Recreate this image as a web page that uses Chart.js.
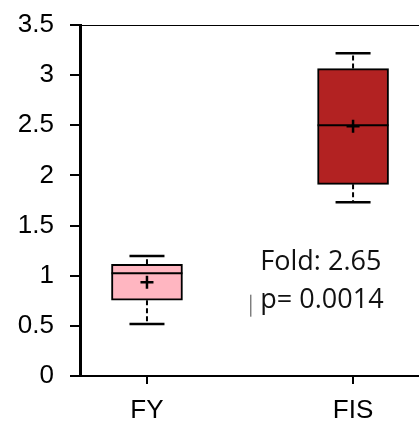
<!DOCTYPE html>
<html>
<head>
<meta charset="utf-8">
<script src="https://cdn.jsdelivr.net/npm/chart.js@4"></script>
<style>
  html, body { margin: 0; padding: 0; background: #ffffff; }
  #chart { display: block; }
</style>
</head>
<body>
<canvas id="chart" width="419" height="424"></canvas>
<script>
const CATEGORIES = ["FY", "FIS"];
const Q1 = [0.755, 1.911];
const Q3 = [1.114, 3.065];
const MEDIANS = [1.024, 2.5];
const MEANS = [0.935, 2.49];
const WHISKER_LOW = [0.518, 1.732];
const WHISKER_HIGH = [1.197, 3.218];
const Y_TICKS = [0, 0.5, 1, 1.5, 2, 2.5, 3, 3.5];
const NOTE_LINES = ["Fold: 2.65", "p= 0.0014"];

const COLORS = {
  black: "#000000",
  pink: "#FFB6C1",
  red: "#B22222",
  white: "#FFFFFF",
};
const BOX_COLORS = [COLORS.pink, COLORS.red];
const BOX_WIDTH = 71;
const CAP_WIDTH = 35;
const MEAN_SIZE = 13;

// median, whiskers, caps and mean crosses on top of the floating bars
const boxExtrasPlugin = {
  id: "boxExtras",
  afterDatasetsDraw: (chart) => {
    const { ctx, scales } = chart;
    const { x, y } = scales;

    ctx.save();
    ctx.strokeStyle = COLORS.black;

    CATEGORIES.forEach((cat, i) => {
      const cx = x.getPixelForValue(i + 1);
      const half = BOX_WIDTH / 2;

      // median
      ctx.lineWidth = 2;
      ctx.setLineDash([]);
      ctx.beginPath();
      ctx.moveTo(cx - half, y.getPixelForValue(MEDIANS[i]));
      ctx.lineTo(cx + half, y.getPixelForValue(MEDIANS[i]));
      ctx.stroke();

      // dashed whiskers
      ctx.setLineDash([5, 3]);
      ctx.beginPath();
      ctx.moveTo(cx, y.getPixelForValue(Q3[i]));
      ctx.lineTo(cx, y.getPixelForValue(WHISKER_HIGH[i]));
      ctx.moveTo(cx, y.getPixelForValue(Q1[i]));
      ctx.lineTo(cx, y.getPixelForValue(WHISKER_LOW[i]));
      ctx.stroke();

      // caps
      ctx.setLineDash([]);
      ctx.lineWidth = 2.5;
      ctx.beginPath();
      [WHISKER_HIGH[i], WHISKER_LOW[i]].forEach((v) => {
        const py = y.getPixelForValue(v);
        ctx.moveTo(cx - CAP_WIDTH / 2, py);
        ctx.lineTo(cx + CAP_WIDTH / 2, py);
      });
      ctx.stroke();

      // mean cross
      const my = y.getPixelForValue(MEANS[i]);
      ctx.beginPath();
      ctx.moveTo(cx - MEAN_SIZE / 2, my);
      ctx.lineTo(cx + MEAN_SIZE / 2, my);
      ctx.moveTo(cx, my - MEAN_SIZE / 2);
      ctx.lineTo(cx, my + MEAN_SIZE / 2);
      ctx.stroke();
    });

    ctx.restore();
  },
  afterDraw: (chart) => {
    const { ctx, chartArea, scales } = chart;
    const { x, y } = scales;

    ctx.save();

    // thin top frame line
    ctx.strokeStyle = COLORS.black;
    ctx.lineWidth = 1;
    ctx.beginPath();
    ctx.moveTo(chartArea.left, chartArea.top + 0.5);
    ctx.lineTo(chartArea.right, chartArea.top + 0.5);
    ctx.stroke();

    // fold / p-value note
    ctx.fillStyle = "#111111";
    ctx.font = "27px 'Open Sans', sans-serif";
    ctx.textBaseline = "alphabetic";
    const noteX = x.getPixelForValue(1.55);
    const noteY = y.getPixelForValue(1.06);
    NOTE_LINES.forEach((line, i) => {
      ctx.fillText(line, noteX, noteY + i * 38);
    });

    // small stray mark left of the note
    ctx.strokeStyle = "#444444";
    ctx.beginPath();
    ctx.moveTo(noteX - 9.5, noteY + 25);
    ctx.lineTo(noteX - 9.5, noteY + 47);
    ctx.stroke();

    ctx.restore();
  },
};

const ctx = document.getElementById("chart").getContext("2d");

Chart.defaults.font.family = "'Liberation Sans', Arial, sans-serif";
Chart.defaults.color = COLORS.black;

new Chart(ctx, {
  type: "bar",
  data: {
    datasets: [
      {
        data: CATEGORIES.map((c, i) => ({ x: i + 1, y: [Q1[i], Q3[i]] })),
        backgroundColor: BOX_COLORS,
        borderColor: COLORS.black,
        borderWidth: 2,
        borderSkipped: false,
        barThickness: BOX_WIDTH,
      },
    ],
  },
  options: {
    responsive: false,
    animation: false,
    layout: {
      padding: { top: 25, right: 0, left: 0, bottom: 0 },
    },
    plugins: {
      legend: { display: false },
      tooltip: { enabled: false },
    },
    scales: {
      x: {
        type: "linear",
        min: 0.675,
        max: 2.32,
        offset: false,
        afterBuildTicks: (scale) => {
          scale.ticks = CATEGORIES.map((c, i) => ({ value: i + 1 }));
        },
        afterFit: (scale) => {
          scale.height = 48;
          scale.paddingLeft = 0;
          scale.paddingRight = 0;
        },
        grid: {
          display: true,
          offset: false,
          drawOnChartArea: false,
          drawTicks: true,
          tickLength: 8,
          color: COLORS.black,
          lineWidth: 2,
        },
        border: {
          display: true,
          color: COLORS.black,
          width: 2,
        },
        ticks: {
          autoSkip: false,
          maxRotation: 0,
          padding: 11,
          font: { size: 26 },
          callback: (value) => CATEGORIES[value - 1] || "",
        },
      },
      y: {
        min: 0,
        max: 3.5,
        afterBuildTicks: (scale) => {
          scale.ticks = Y_TICKS.map((v) => ({ value: v }));
        },
        afterFit: (scale) => {
          scale.width = 80;
          scale.paddingTop = 0;
          scale.paddingBottom = 0;
        },
        grid: {
          display: true,
          drawOnChartArea: false,
          drawTicks: true,
          tickLength: 10,
          color: COLORS.black,
          lineWidth: 2,
        },
        border: {
          display: true,
          color: COLORS.black,
          width: 3,
        },
        ticks: {
          padding: 16,
          font: { size: 26 },
          callback: (value) => String(value),
        },
      },
    },
  },
  plugins: [boxExtrasPlugin],
});
</script>
</body>
</html>
